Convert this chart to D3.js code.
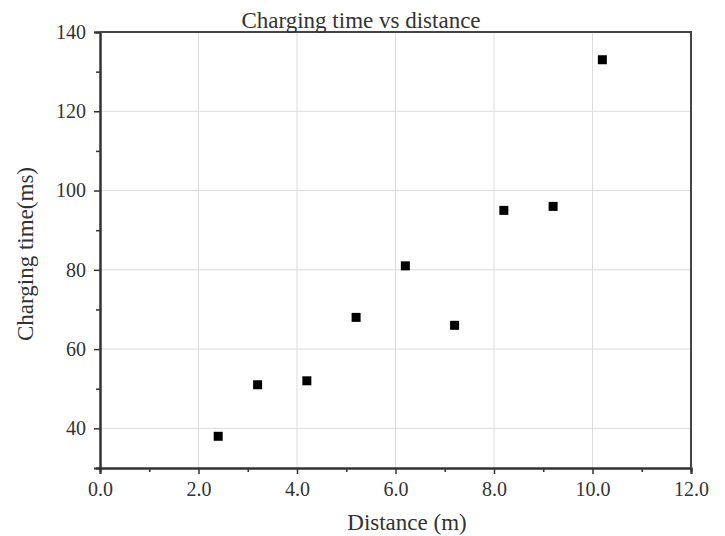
<!DOCTYPE html>
<html>
<head>
<meta charset="utf-8">
<script src="https://cdn.jsdelivr.net/npm/d3@7"></script>
<style>
	body { margin: 0; background: #fff; }
	text { font-family: "Liberation Serif", "Times New Roman", serif; fill: #333; }
</style>
</head>
<body>
<svg id="chart" width="725" height="536"></svg>
<script>
// Data
const distance = [2.4, 3.2, 4.2, 5.2, 6.2, 7.2, 8.2, 9.2, 10.2];
const chargingTime = [38, 51, 52, 68, 81, 66, 95, 96, 133];
const xTicks = [0, 2, 4, 6, 8, 10, 12];
const yTicks = [40, 60, 80, 100, 120, 140];
const xMinor = [1, 3, 5, 7, 9, 11];
const yMinor = [30, 50, 70, 90, 110, 130];

const svg = d3.select("#chart");
const m = {left: 100, right: 34, top: 32, bottom: 68};
const W = 725, H = 536;

const x = d3.scaleLinear().domain([0, 12]).range([m.left, W - m.right]);
const y = d3.scaleLinear().domain([30, 140]).range([H - m.bottom, m.top]);

// Grid lines
const grid = svg.append("g").attr("stroke", "#ddd").attr("stroke-width", 1);
grid.selectAll(".gx").data(xTicks.slice(1, -1)).join("line")
	.attr("x1", d => x(d)).attr("x2", d => x(d))
	.attr("y1", y(30)).attr("y2", y(140));
grid.selectAll(".gy").data(yTicks.slice(0, -1)).join("line")
	.attr("x1", x(0)).attr("x2", x(12))
	.attr("y1", d => y(d)).attr("y2", d => y(d));

// Axes
svg.append("g").attr("transform", `translate(0,${y(30)})`)
	.call(d3.axisBottom(x).tickValues(xTicks).tickFormat(d3.format(".1f")).tickSize(6).tickPadding(8));
svg.append("g").attr("transform", `translate(${x(0)},0)`)
	.call(d3.axisLeft(y).tickValues(yTicks).tickSize(6).tickPadding(8));

// Minor ticks
svg.append("g").attr("transform", `translate(0,${y(30)})`)
	.call(d3.axisBottom(x).tickValues(xMinor).tickSize(4).tickFormat(""));
svg.append("g").attr("transform", `translate(${x(0)},0)`)
	.call(d3.axisLeft(y).tickValues(yMinor).tickSize(4).tickFormat(""));

svg.selectAll(".domain").attr("stroke", "#333").attr("stroke-width", 2);
svg.selectAll(".tick line").attr("stroke", "#333").attr("stroke-width", 1.5);
svg.selectAll(".tick text").attr("font-size", 20).attr("font-family", "Liberation Serif").attr("fill", "#444");

// Top and right frame
svg.append("path")
	.attr("d", `M${x(0)},${y(140)}H${x(12)}V${y(30)}`)
	.attr("fill", "none").attr("stroke", "#444").attr("stroke-width", 2);

// Points
svg.append("g").selectAll("rect").data(distance).join("rect")
	.attr("x", (d, i) => x(d) - 4.5)
	.attr("y", (d, i) => y(chargingTime[i]) - 4.5)
	.attr("width", 9).attr("height", 9)
	.attr("fill", "#000");

// Title and labels
svg.append("text").attr("x", 361).attr("y", 28).attr("text-anchor", "middle")
	.attr("font-size", 23).text("Charging time vs distance");
svg.append("text").attr("x", 407).attr("y", 530).attr("text-anchor", "middle")
	.attr("font-size", 23).text("Distance (m)");
svg.append("text").attr("transform", "translate(33,254) rotate(-90)").attr("text-anchor", "middle")
	.attr("font-size", 23).text("Charging time(ms)");
</script>
</body>
</html>
